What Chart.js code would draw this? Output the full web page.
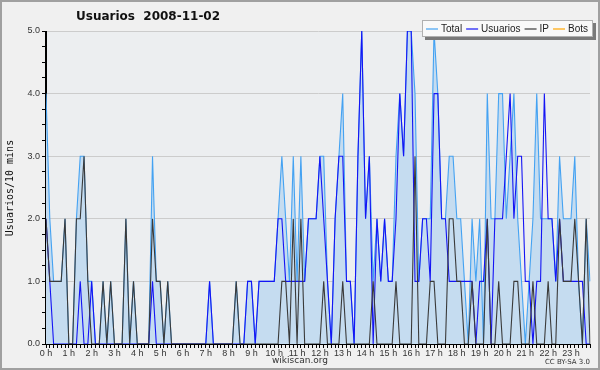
<!DOCTYPE html>
<html><head><meta charset="utf-8">
<script src="https://cdn.jsdelivr.net/npm/chart.js@4.4.0/dist/chart.umd.min.js"></script>
<style>html,body{margin:0;padding:0;background:#f0f0f0}canvas{display:block}</style>
</head><body>
<canvas id="c" width="600" height="370"></canvas>
<script>
const chartTitle = 'Usuarios  2008-11-02';
const yAxisTitle = 'Usuarios/10 mins';
const hourLabels = ['0 h','1 h','2 h','3 h','4 h','5 h','6 h','7 h','8 h','9 h','10 h','11 h',
  '12 h','13 h','14 h','15 h','16 h','17 h','18 h','19 h','20 h','21 h','22 h','23 h'];
const slotsPerHour = 6;
const seriesNames = ['Total','Usuarios','IP','Bots'];

const usuarios = [
  2,1,0,0,0,0,  0,0,0,1,0,0,  1,0,0,0,0,0,  0,0,0,0,0,0,
  0,0,0,0,1,0,  0,0,0,0,0,0,  0,0,0,0,0,0,  0,1,0,0,0,0,
  0,0,0,0,0,1,  1,0,1,1,1,1,  1,2,2,1,1,1,  1,1,1,2,2,2,
  3,2,1,0,2,3,  3,1,1,0,3,5,  2,3,0,2,1,2,  1,1,2,4,3,5,
  5,1,1,2,2,1,  4,4,2,2,1,1,  1,1,1,1,1,0,  1,1,2,0,2,2,
  2,3,4,2,3,3,  1,1,0,1,1,4,  2,2,1,2,1,1,  1,1,1,1,0,0,  0,1
];
const ip = [
  2,1,1,1,1,2,  0,0,2,2,3,1,  0,0,0,1,0,1,  0,0,0,2,0,1,
  0,0,0,0,2,1,  1,0,1,0,0,0,  0,0,0,0,0,0,  0,0,0,0,0,0,
  0,0,1,0,0,0,  0,0,0,0,0,0,  0,0,1,1,0,2,  0,2,0,0,0,0,
  0,1,0,0,0,0,  1,0,0,0,0,0,  0,0,1,0,0,0,  0,0,1,0,0,0,
  0,3,0,0,0,1,  1,0,0,0,2,2,  1,1,0,0,1,0,  0,0,2,0,0,1,
  0,0,0,1,1,0,  0,0,1,0,0,0,  1,0,0,2,1,1,  1,2,1,0,2,0,  0,0
];
const total = [
  4,2,1,1,1,2,  0,0,2,3,3,1,  1,0,0,1,0,1,  0,0,0,2,0,1,
  0,0,0,0,3,1,  1,0,1,0,0,0,  0,0,0,0,0,0,  0,1,0,0,0,0,
  0,0,1,0,0,1,  1,0,1,1,1,1,  1,2,3,2,1,3,  1,3,1,2,2,2,
  3,3,1,0,2,3,  4,1,1,0,3,5,  2,3,1,2,1,2,  1,1,3,4,3,5,
  5,4,1,2,2,2,  5,4,2,2,3,3,  2,2,1,0,2,1,  2,0,4,2,2,4,
  4,2,3,4,2,1,  0,1,2,4,2,2,  2,2,1,3,2,2,  2,3,1,0,2,1,  0,0
];
const bots = [
  0,0,0,0,0,0, 0,0,0,0,0,0, 0,0,0,0,0,0, 0,0,0,0,0,0,
  0,0,0,0,0,0, 0,0,0,0,0,0, 0,0,0,0,0,0, 0,0,0,0,0,0,
  0,0,0,0,0,0, 0,0,0,0,0,0, 0,0,0,0,0,0, 0,0,0,0,0,0,
  0,0,0,0,0,0, 0,0,0,0,0,0, 0,0,0,0,0,0, 0,0,0,0,0,0,
  0,0,0,0,0,0, 0,0,0,0,0,0, 0,0,0,0,0,0, 0,0,0,0,0,0,
  0,0,0,0,0,0, 0,0,0,0,0,0, 0,0,0,0,0,0, 0,0,0,0,0,0
];

// one category per 10-minute slot, labelled on the hour
const slots = [];
hourLabels.forEach(h => { for (let m = 0; m < slotsPerHour; m++) slots.push(m === 0 ? h : ''); });

const colors = { Total: '#44a2f2', Usuarios: '#1414f5', IP: '#3a3a3a', Bots: '#ffa500' };
const fillColor = '#c5dcf0';

const decor = {
  id: 'decor',
  beforeDraw(chart) {
    const { ctx, chartArea: a } = chart;
    ctx.save();
    ctx.fillStyle = '#f0f0f0';
    ctx.fillRect(0, 0, chart.width, chart.height);
    ctx.fillStyle = '#eceef0';
    ctx.fillRect(a.left, a.top, a.right - a.left, a.bottom - a.top);
    ctx.restore();
  },
  afterDatasetsDraw(chart) {
    const { ctx, chartArea: a } = chart;
    ctx.save();
    ctx.strokeStyle = '#000';
    ctx.lineWidth = 1;
    ctx.beginPath();
    ctx.moveTo(Math.round(a.left) - 0.5, a.top);
    ctx.lineTo(Math.round(a.left) - 0.5, Math.round(a.bottom) + 0.5);
    ctx.lineTo(a.right, Math.round(a.bottom) + 0.5);
    ctx.stroke();
    ctx.restore();
  },
  afterDraw(chart) {
    const { ctx } = chart;
    ctx.save();
    // outer frame
    ctx.strokeStyle = '#a0a0a0';
    ctx.lineWidth = 2;
    ctx.strokeRect(1, 1, chart.width - 2, chart.height - 2);
    // title
    ctx.fillStyle = '#111';
    ctx.font = 'bold 12px "DejaVu Sans"';
    ctx.textBaseline = 'middle';
    ctx.textAlign = 'left';
    ctx.fillText(chartTitle, 76, 17);
    // y axis title
    ctx.save();
    ctx.translate(10, 188);
    ctx.rotate(-Math.PI / 2);
    ctx.font = '10px "DejaVu Sans Mono"';
    ctx.textAlign = 'center';
    ctx.fillStyle = '#111';
    ctx.fillText(yAxisTitle, 0, 0);
    ctx.restore();
    // bottom texts
    ctx.font = '9px "DejaVu Sans"';
    ctx.textAlign = 'center';
    ctx.fillStyle = '#333';
    ctx.fillText('wikiscan.org', 300, 361);
    ctx.font = '7px "DejaVu Sans"';
    ctx.textAlign = 'right';
    ctx.fillText('CC BY-SA 3.0', 590, 362);
    // legend box
    const bx = 422, by = 20, bw = 171, bh = 17;
    ctx.fillStyle = '#7a7a7a';
    ctx.fillRect(bx + 3, by + 3, bw, bh);
    ctx.fillStyle = '#f9f9f9';
    ctx.fillRect(bx, by, bw, bh);
    ctx.strokeStyle = '#b0b0b0';
    ctx.lineWidth = 1;
    ctx.strokeRect(bx + 0.5, by + 0.5, bw - 1, bh - 1);
    ctx.font = '10px "Liberation Sans"';
    ctx.textAlign = 'left';
    let x = bx + 4;
    const ly = by + bh / 2 + 0.5;
    seriesNames.forEach(name => {
      ctx.strokeStyle = colors[name];
      ctx.lineWidth = 1.2;
      ctx.beginPath();
      ctx.moveTo(x, ly); ctx.lineTo(x + 12, ly); ctx.stroke();
      x += 15;
      ctx.fillStyle = '#222';
      ctx.fillText(name, x, ly);
      x += ctx.measureText(name).width + 4;
    });
    ctx.restore();
  }
};

new Chart(document.getElementById('c'), {
  type: 'line',
  data: {
    labels: slots,
    datasets: [
      { label: 'Total', data: total, borderColor: colors.Total, backgroundColor: fillColor,
        fill: 'origin', borderWidth: 1.1, order: 4 },
      { label: 'Usuarios', data: usuarios, borderColor: colors.Usuarios, borderWidth: 1.1,
        fill: false, order: 3 },
      { label: 'IP', data: ip, borderColor: colors.IP, borderWidth: 1.1, fill: false, order: 2 },
      { label: 'Bots', data: bots, borderColor: colors.Bots, borderWidth: 1, fill: false, order: 5 }
    ]
  },
  options: {
    responsive: false,
    animation: false,
    elements: { point: { radius: 0 }, line: { tension: 0 } },
    layout: { padding: { top: 31, right: 10, left: 0, bottom: 0 } },
    plugins: { legend: { display: false }, tooltip: { enabled: false }, title: { display: false } },
    scales: {
      x: {
        type: 'category',
        offset: false,
        afterFit(s) { s.height = 26; },
        grid: { drawOnChartArea: false, tickLength: 4, tickColor: '#000' },
        border: { color: '#000' },
        ticks: { autoSkip: false, maxRotation: 0, minRotation: 0, padding: 0,
          color: '#333', font: { size: 9, family: 'Liberation Sans' } }
      },
      y: {
        min: 0, max: 5,
        afterFit(s) { s.width = 46; },
        grid: {
          color: c => (c.tick && Number.isInteger(c.tick.value) && c.tick.value > 0) ? '#cccccc' : 'rgba(0,0,0,0)',
          tickColor: '#000', tickLength: 4
        },
        border: { color: '#000' },
        ticks: { stepSize: 0.25, autoSkip: false, padding: 2, color: '#333',
          font: { size: 9, family: 'Liberation Sans' },
          callback: v => Number.isInteger(v) ? v.toFixed(1) : '' }
      }
    }
  },
  plugins: [decor]
});
</script>
</body></html>
